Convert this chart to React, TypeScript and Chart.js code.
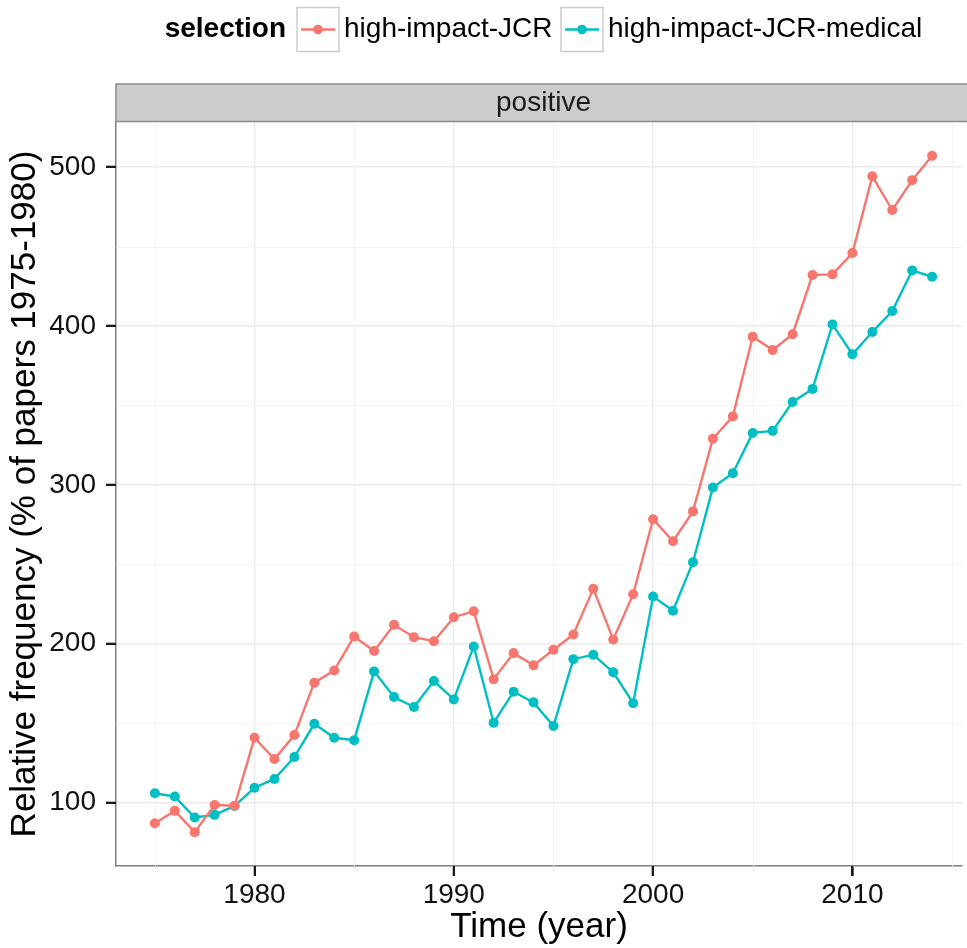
import { useEffect, useRef } from "react";
import { Chart, registerables } from "chart.js";

Chart.register(...registerables);

const years = [
  1975, 1976, 1977, 1978, 1979, 1980, 1981, 1982, 1983, 1984,
  1985, 1986, 1987, 1988, 1989, 1990, 1991, 1992, 1993, 1994,
  1995, 1996, 1997, 1998, 1999, 2000, 2001, 2002, 2003, 2004,
  2005, 2006, 2007, 2008, 2009, 2010, 2011, 2012, 2013, 2014,
];

const jcr = [
  87, 94.8, 81.4, 98.5, 98, 140.8, 127.4, 142.5, 175.5, 183.2,
  204.6, 195.4, 211.9, 204.1, 201.6, 216.7, 220.5, 177.7, 194.1, 186.4,
  196.2, 205.8, 234.6, 202.7, 231.2, 278.4, 264.5, 283.3, 329, 343.1,
  393.3, 384.9, 394.8, 432.1, 432.5, 445.9, 494.2, 473, 491.8, 507.1,
];

const jcrMedical = [
  105.9, 103.8, 90.6, 92.3, 97.9, 109.4, 114.9, 128.7, 149.6, 140.8,
  139.3, 182.6, 166.5, 160.2, 176.5, 164.9, 198.3, 150.3, 169.8, 163.1,
  148.2, 190.3, 193.1, 182, 162.6, 229.7, 220.8, 251.3, 298.3, 307.3,
  332.7, 334, 352.2, 360.4, 401, 382.2, 396.2, 409.4, 435, 431,
];

const seriesNames = ["high-impact-JCR", "high-impact-JCR-medical"];
const seriesColors = ["#F8766D", "#00BFC4"];
const legendTitle = "selection";
const facetLabel = "positive";

const xMinor = [1975, 1985, 1995, 2005, 2015];
const xMajor = [1980, 1990, 2000, 2010];
const yMinor = [150, 250, 350, 450];
const yMajor = [100, 200, 300, 400, 500];

const xTitle = "Time (year)";
const yTitle = "Relative frequency (% of papers 1975-1980)";

const X_MIN = 1973.05;
const X_MAX_VISIBLE = 2015.5;
const X_PANEL_END = 2015.95;
const Y_MIN = 60.1;
const Y_MAX = 528.4;

const FONT = "'Liberation Sans', Arial, Helvetica, sans-serif";
const TICK_LEN = 10;

const minorGridPlugin = {
  id: "minorGrid",
  beforeDatasetsDraw(chart: any) {
    const { ctx, chartArea } = chart;
    const xs = chart.scales.x;
    const ys = chart.scales.y;
    ctx.save();
    ctx.setLineDash([]);
    ctx.strokeStyle = "#F4F4F4";
    ctx.lineWidth = 1;
    ctx.beginPath();
    xMinor.forEach((v) => {
      const px = Math.round(xs.getPixelForValue(v)) + 0.5;
      ctx.moveTo(px, chartArea.top);
      ctx.lineTo(px, chartArea.bottom);
    });
    yMinor.forEach((v) => {
      const py = Math.round(ys.getPixelForValue(v)) + 0.5;
      ctx.moveTo(chartArea.left, py);
      ctx.lineTo(chartArea.right, py);
    });
    ctx.stroke();
    ctx.restore();
  },
};

const tickPlugin = {
  id: "axisTicks",
  afterDraw(chart: any) {
    const { ctx, chartArea } = chart;
    const xs = chart.scales.x;
    const ys = chart.scales.y;
    ctx.save();
    ctx.setLineDash([]);
    ctx.globalAlpha = 1;
    ctx.globalCompositeOperation = "source-over";
    ctx.fillStyle = "#1A1A1A";
    xMajor.forEach((v) => {
      const px = Math.round(xs.getPixelForValue(v));
      ctx.fillRect(px - 1, Math.round(chartArea.bottom), 2, TICK_LEN);
    });
    yMajor.forEach((v) => {
      const py = Math.round(ys.getPixelForValue(v));
      ctx.fillRect(Math.round(chartArea.left) - TICK_LEN, py - 1, TICK_LEN, 2);
    });
    ctx.restore();
  },
};

const overlayPlugin = {
  id: "stripAndLegend",
  afterDraw(chart: any) {
    const { ctx, chartArea } = chart;
    const xs = chart.scales.x;
    const left = chartArea.left;
    const right = xs.getPixelForValue(X_PANEL_END);
    const center = (left + right) / 2;
    ctx.save();
    ctx.setLineDash([]);

    // facet strip
    const stripTop = 84;
    const stripBottom = 121.5;
    ctx.fillStyle = "#CCCCCC";
    ctx.fillRect(left, stripTop, right - left, stripBottom - stripTop);
    ctx.strokeStyle = "#8C8C8C";
    ctx.lineWidth = 1.5;
    ctx.strokeRect(left, stripTop, right - left, stripBottom - stripTop);
    ctx.fillStyle = "#1A1A1A";
    ctx.font = `28px ${FONT}`;
    ctx.textAlign = "center";
    ctx.textBaseline = "middle";
    ctx.fillText(facetLabel, center, (stripTop + stripBottom) / 2 + 1);

    // legend
    const boxW = 42;
    const boxH = 44;
    const boxTop = 7.5;
    const midY = boxTop + boxH / 2;
    ctx.font = `bold 28px ${FONT}`;
    const titleW = ctx.measureText(legendTitle).width;
    ctx.font = `28px ${FONT}`;
    const labelWs = seriesNames.map((n) => ctx.measureText(n).width);
    const gapTitle = 11;
    const gapLabel = 5;
    const gapItem = 8.5;
    const total =
      titleW + gapTitle + labelWs.reduce((a, w) => a + boxW + gapLabel + w, 0) + gapItem * (seriesNames.length - 1);
    let x = center - total / 2;
    ctx.textAlign = "left";
    ctx.fillStyle = "#000";
    ctx.font = `bold 28px ${FONT}`;
    ctx.fillText(legendTitle, x, midY);
    x += titleW + gapTitle;
    seriesNames.forEach((name, i) => {
      ctx.fillStyle = "#FFFFFF";
      ctx.fillRect(x, boxTop, boxW, boxH);
      ctx.strokeStyle = "#CCCCCC";
      ctx.lineWidth = 1.5;
      ctx.strokeRect(x, boxTop, boxW, boxH);
      ctx.strokeStyle = seriesColors[i];
      ctx.lineWidth = 2.4;
      ctx.beginPath();
      ctx.moveTo(x + 4, midY);
      ctx.lineTo(x + boxW - 4, midY);
      ctx.stroke();
      ctx.fillStyle = seriesColors[i];
      ctx.beginPath();
      ctx.arc(x + boxW / 2, midY, 4.8, 0, Math.PI * 2);
      ctx.fill();
      x += boxW + gapLabel;
      ctx.fillStyle = "#000";
      ctx.font = `28px ${FONT}`;
      ctx.fillText(name, x, midY);
      x += labelWs[i] + gapItem;
    });
    ctx.restore();
  },
};

export default function App() {
  const canvasRef = useRef<HTMLCanvasElement | null>(null);

  useEffect(() => {
    const canvas = canvasRef.current;
    if (!canvas) return;
    const chart = new Chart(canvas, {
      type: "line",
      data: {
        datasets: [jcr, jcrMedical].map((vals, i) => ({
          label: seriesNames[i],
          data: years.map((yr, k) => ({ x: yr, y: vals[k] })),
          borderColor: seriesColors[i],
          backgroundColor: seriesColors[i],
          pointBackgroundColor: seriesColors[i],
          pointBorderWidth: 0,
          pointRadius: 5,
          borderWidth: 2.4,
          tension: 0,
          fill: false,
        })),
      },
      options: {
        animation: false,
        responsive: false,
        devicePixelRatio: 1,
        layout: { padding: { top: 122, left: 0, right: 0, bottom: 0 } },
        plugins: {
          legend: { display: false },
          title: { display: false },
          tooltip: { enabled: false },
        },
        scales: {
          x: {
            type: "linear",
            min: X_MIN,
            max: X_MAX_VISIBLE,
            afterBuildTicks: (s: any) => {
              s.ticks = xMajor.map((v) => ({ value: v }));
            },
            afterFit: (s: any) => {
              s.height = 82;
            },
            ticks: {
              autoSkip: false,
              maxRotation: 0,
              minRotation: 0,
              padding: 2,
              color: "#111",
              font: { family: FONT, size: 28, lineHeight: 1.2 },
              callback: (v: any) => String(v),
            },
            grid: {
              color: "#EBEBEB",
              lineWidth: 1.4,
              drawTicks: true,
              tickLength: TICK_LEN,
              tickColor: "#1A1A1A",
              tickWidth: 2,
            },
            border: { display: true, color: "#7F7F7F", width: 1.5 },
            title: {
              display: true,
              text: xTitle,
              color: "#000",
              font: { family: FONT, size: 35, lineHeight: 1.2 },
              padding: { top: 0, bottom: 0 },
            },
          },
          y: {
            type: "linear",
            min: Y_MIN,
            max: Y_MAX,
            afterBuildTicks: (s: any) => {
              s.ticks = yMajor.map((v) => ({ value: v }));
            },
            afterFit: (s: any) => {
              s.width = 116;
            },
            ticks: {
              autoSkip: false,
              padding: 10,
              color: "#111",
              font: { family: FONT, size: 28, lineHeight: 1.2 },
              callback: (v: any) => String(v),
            },
            grid: {
              color: "#EBEBEB",
              lineWidth: 1.4,
              drawTicks: true,
              tickLength: TICK_LEN,
              tickColor: "#1A1A1A",
              tickWidth: 2,
            },
            border: { display: true, color: "#7F7F7F", width: 1.5 },
            title: {
              display: true,
              text: yTitle,
              color: "#000",
              font: { family: FONT, size: 35, lineHeight: 1.2 },
              padding: { top: 4, bottom: 0 },
            },
          },
        },
      },
      plugins: [minorGridPlugin, tickPlugin, overlayPlugin],
    } as any);
    return () => chart.destroy();
  }, []);

  return (
    <div
      style={{
        position: "fixed",
        left: 0,
        top: 0,
        width: 967,
        height: 948,
        background: "#FFFFFF",
        overflow: "hidden",
      }}
    >
      <canvas ref={canvasRef} width={967} height={948} style={{ width: 967, height: 948, display: "block" }} />
    </div>
  );
}
